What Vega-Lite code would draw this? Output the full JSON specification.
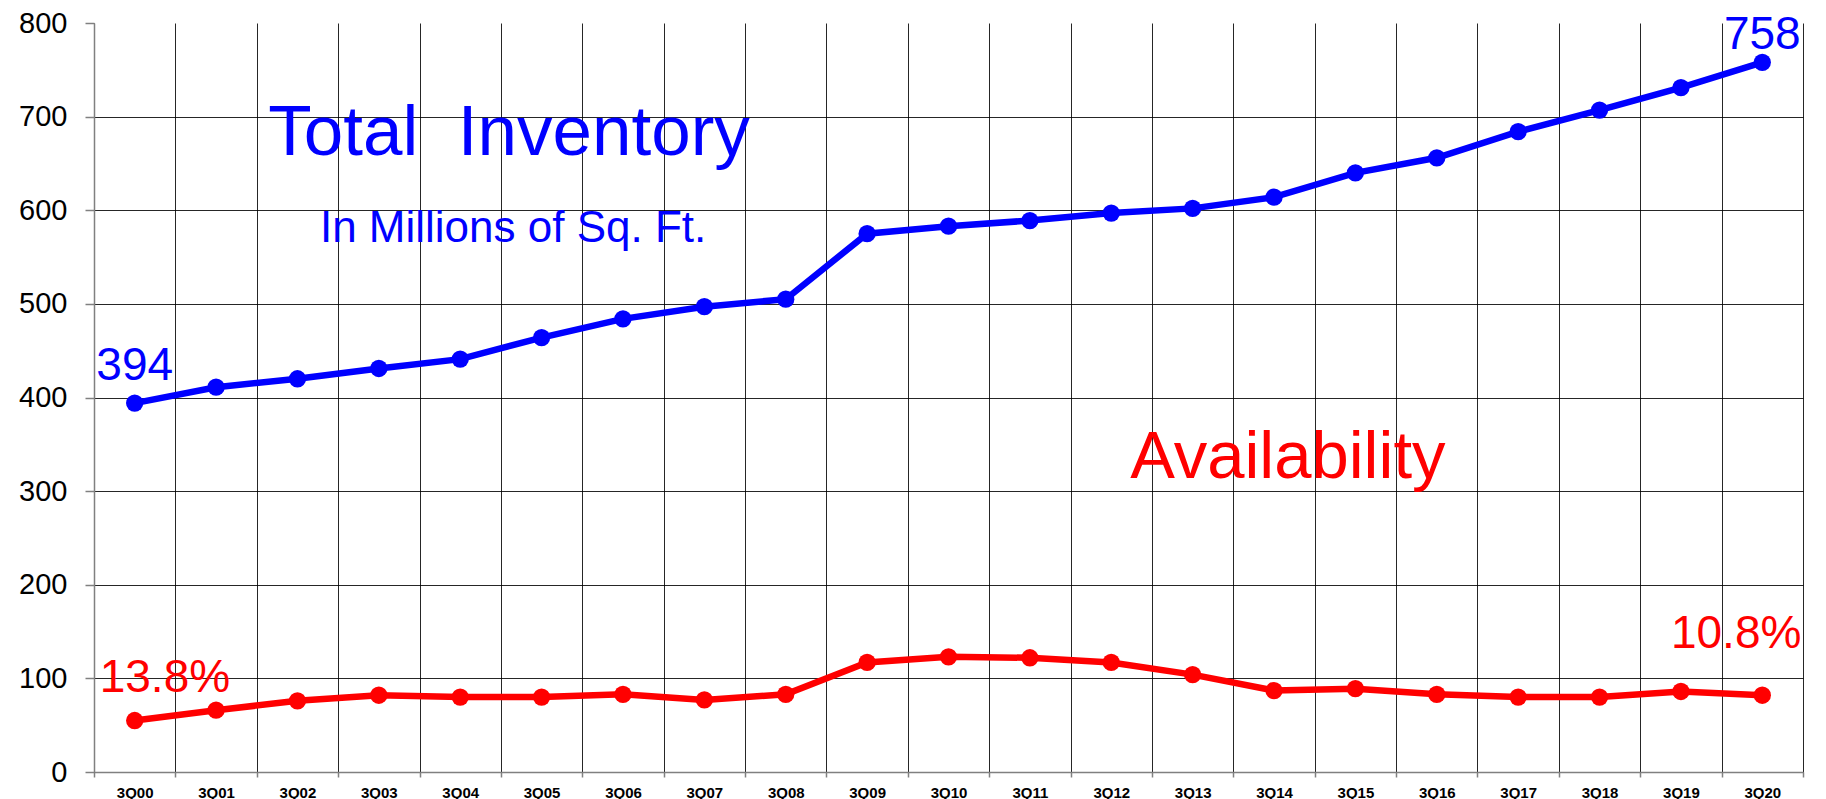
{
  "$schema": "https://vega.github.io/schema/vega-lite/v6.json",
  "autosize": {"type": "none"},
  "padding": {"left": 94, "top": 23, "right": 23, "bottom": 27},
  "width": 1709,
  "height": 749,
  "background": "white",
  "config": {
    "view": {"stroke": null},
    "font": "Liberation Sans"
  },
  "datasets": {
    "main": [
      {"q": "3Q00", "inventory": 394, "availability": 55},
      {"q": "3Q01", "inventory": 411, "availability": 66},
      {"q": "3Q02", "inventory": 420, "availability": 76},
      {"q": "3Q03", "inventory": 431, "availability": 82},
      {"q": "3Q04", "inventory": 441, "availability": 80},
      {"q": "3Q05", "inventory": 464, "availability": 80},
      {"q": "3Q06", "inventory": 484, "availability": 83},
      {"q": "3Q07", "inventory": 497, "availability": 77},
      {"q": "3Q08", "inventory": 505, "availability": 83},
      {"q": "3Q09", "inventory": 575, "availability": 117},
      {"q": "3Q10", "inventory": 583, "availability": 123},
      {"q": "3Q11", "inventory": 589, "availability": 122},
      {"q": "3Q12", "inventory": 597, "availability": 117},
      {"q": "3Q13", "inventory": 602, "availability": 104},
      {"q": "3Q14", "inventory": 614, "availability": 87},
      {"q": "3Q15", "inventory": 640, "availability": 89},
      {"q": "3Q16", "inventory": 656, "availability": 83},
      {"q": "3Q17", "inventory": 684, "availability": 80},
      {"q": "3Q18", "inventory": 707, "availability": 80},
      {"q": "3Q19", "inventory": 731, "availability": 86},
      {"q": "3Q20", "inventory": 758, "availability": 82}
    ],
    "notes": [
      {"q": "3Q05", "v": 659, "label": "Total\u00a0\u00a0Inventory", "kind": "title"},
      {"q": "3Q05", "v": 566, "label": "In Millions of Sq. Ft.", "kind": "subtitle"},
      {"q": "3Q00", "v": 419, "label": "394", "kind": "start"},
      {"q": "3Q20", "v": 772, "label": "758", "kind": "end"},
      {"q": "3Q00", "v": 85, "label": "13.8%", "kind": "availstart"},
      {"q": "3Q20", "v": 132, "label": "10.8%", "kind": "availend"},
      {"q": "3Q14", "v": 314, "label": "Availability", "kind": "availtitle"}
    ]
  },
  "data": {"name": "main"},
  "encoding": {
    "x": {
      "field": "q",
      "type": "ordinal",
      "sort": null,
      "scale": {"paddingInner": 0, "paddingOuter": 0},
      "axis": {
        "title": null,
        "labelAngle": 0,
        "labelFont": "Liberation Sans",
        "labelFontSize": 15,
        "labelFontWeight": "bold",
        "labelColor": "#000000",
        "labelPadding": 8,
        "tickBand": "extent",
        "tickSize": 5,
        "tickColor": "#808080",
        "tickWidth": 1.5,
        "domainColor": "#808080",
        "domainWidth": 1.5,
        "grid": true,
        "gridColor": "#000000",
        "gridWidth": 1,
        "gridOpacity": 0.85
      }
    }
  },
  "layer": [
    {
      "mark": {"type": "line", "color": "#0000ff", "strokeWidth": 6.5},
      "encoding": {
        "y": {
          "field": "inventory",
          "type": "quantitative",
          "scale": {"domain": [0, 800], "nice": false},
          "axis": {
            "title": null,
            "values": [0, 100, 200, 300, 400, 500, 600, 700, 800],
            "labelFont": "Liberation Sans",
            "labelFontSize": 29,
            "labelColor": "#000000",
            "labelPadding": 18,
            "tickSize": 9,
            "tickColor": "#808080",
            "tickWidth": 1.5,
            "domainColor": "#808080",
            "domainWidth": 1.5,
            "grid": true,
            "gridColor": "#000000",
            "gridWidth": 1,
            "gridOpacity": {"condition": {"test": "datum.value === 800", "value": 0}, "value": 0.85}
          }
        }
      }
    },
    {
      "mark": {"type": "point", "filled": true, "color": "#0000ff", "size": 300, "opacity": 1},
      "encoding": {"y": {"field": "inventory", "type": "quantitative"}}
    },
    {
      "mark": {"type": "line", "color": "#ff0000", "strokeWidth": 6.5},
      "encoding": {"y": {"field": "availability", "type": "quantitative"}}
    },
    {
      "mark": {"type": "point", "filled": true, "color": "#ff0000", "size": 300, "opacity": 1},
      "encoding": {"y": {"field": "availability", "type": "quantitative"}}
    },
    {
      "data": {"name": "notes"},
      "transform": [{"filter": "datum.kind === 'title'"}],
      "mark": {"type": "text", "color": "#0000ff", "fontSize": 71, "align": "center", "baseline": "alphabetic", "clip": false},
      "encoding": {
        "x": {"field": "q", "type": "ordinal", "bandPosition": 0.1},
        "y": {"field": "v", "type": "quantitative"},
        "text": {"field": "label"}
      }
    },
    {
      "data": {"name": "notes"},
      "transform": [{"filter": "datum.kind === 'subtitle'"}],
      "mark": {"type": "text", "color": "#0000ff", "fontSize": 44, "align": "center", "baseline": "alphabetic"},
      "encoding": {
        "x": {"field": "q", "type": "ordinal", "bandPosition": 0.15},
        "y": {"field": "v", "type": "quantitative"},
        "text": {"field": "label"}
      }
    },
    {
      "data": {"name": "notes"},
      "transform": [{"filter": "datum.kind === 'start' || datum.kind === 'end'"}],
      "mark": {"type": "text", "color": "#0000ff", "fontSize": 46, "align": "center", "baseline": "alphabetic"},
      "encoding": {
        "x": {"field": "q", "type": "ordinal", "bandPosition": 0.5},
        "y": {"field": "v", "type": "quantitative"},
        "text": {"field": "label"}
      }
    },
    {
      "data": {"name": "notes"},
      "transform": [{"filter": "datum.kind === 'availstart'"}],
      "mark": {"type": "text", "color": "#ff0000", "fontSize": 46, "align": "left", "baseline": "alphabetic"},
      "encoding": {
        "x": {"field": "q", "type": "ordinal", "bandPosition": 0.07},
        "y": {"field": "v", "type": "quantitative"},
        "text": {"field": "label"}
      }
    },
    {
      "data": {"name": "notes"},
      "transform": [{"filter": "datum.kind === 'availend'"}],
      "mark": {"type": "text", "color": "#ff0000", "fontSize": 46, "align": "right", "baseline": "alphabetic"},
      "encoding": {
        "x": {"field": "q", "type": "ordinal", "bandPosition": 0.98},
        "y": {"field": "v", "type": "quantitative"},
        "text": {"field": "label"}
      }
    },
    {
      "data": {"name": "notes"},
      "transform": [{"filter": "datum.kind === 'availtitle'"}],
      "mark": {"type": "text", "color": "#ff0000", "fontSize": 67, "align": "center", "baseline": "alphabetic"},
      "encoding": {
        "x": {"field": "q", "type": "ordinal", "bandPosition": 0.67},
        "y": {"field": "v", "type": "quantitative"},
        "text": {"field": "label"}
      }
    }
  ]
}
